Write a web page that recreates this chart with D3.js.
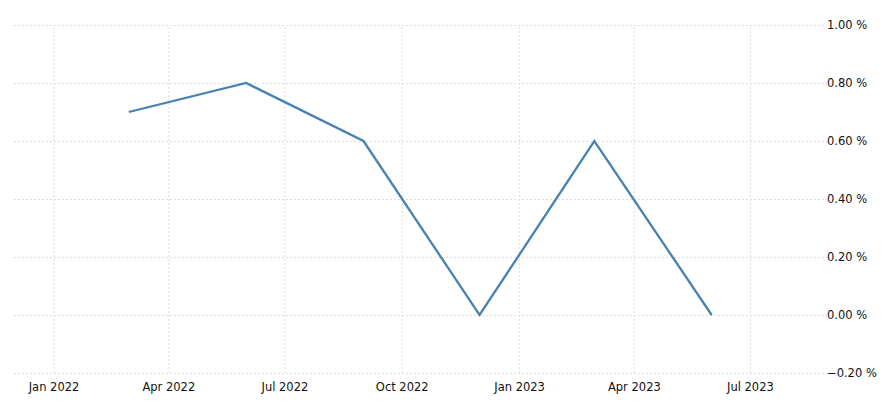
<!DOCTYPE html>
<html>
<head>
<meta charset="utf-8">
<script src="https://cdn.jsdelivr.net/npm/d3@7"></script>
<style>
  body { margin: 0; background: #fff; }
  text { font-family: "DejaVu Sans", sans-serif; }
</style>
</head>
<body>
<div id="chart"></div>
<script>
// Data (quarterly, plotted on first day of the quarter's last month)
var dates = ["2022-03-01", "2022-06-01", "2022-09-01", "2022-12-01", "2023-03-01", "2023-06-01"];
var values = [0.7, 0.8, 0.6, 0.0, 0.6, 0.0];
var xTicks = ["2022-01-01", "2022-04-01", "2022-07-01", "2022-10-01", "2023-01-01", "2023-04-01", "2023-07-01"];
var yTicks = [-0.2, 0, 0.2, 0.4, 0.6, 0.8, 1.0];

var parse = d3.timeParse("%Y-%m-%d");
var data = dates.map(function(d, i) { return {date: parse(d), value: values[i]}; });

const width = 887, height = 402;
var svg = d3.select("#chart")
  .append("svg")
  .attr("width", width)
  .attr("height", height);

// plot area
const plot = {left: 14, right: 829, top: 25, bottom: 373};

var x = d3.scaleTime()
  .domain([parse("2021-12-01"), parse("2023-09-01")])
  .range([plot.left, plot.right]);
var y = d3.scaleLinear()
  .domain([-0.2, 1.0])
  .range([plot.bottom, plot.top]);

// horizontal grid + y labels
var yAxis = svg.append("g")
  .attr("transform", "translate(" + plot.left + ",0)")
  .call(d3.axisRight(y)
    .tickValues(yTicks)
    .tickSize(plot.right - plot.left - 2)
    .tickPadding(0)
    .tickFormat(function(d) { return d3.format(".2f")(d) + " %"; }));
yAxis.select(".domain").remove();
yAxis.selectAll("line")
  .attr("stroke", "#dedede")
  .attr("stroke-dasharray", "2,2");
yAxis.selectAll("text")
  .attr("x", plot.right - plot.left - 2)
  .attr("fill", "#111")
  .style("font-size", "11.5px");

// vertical grid + x labels
var xAxis = svg.append("g")
  .attr("transform", "translate(0," + plot.bottom + ")")
  .call(d3.axisBottom(x)
    .tickValues(xTicks.map(parse))
    .tickSize(-(plot.bottom - plot.top))
    .tickPadding(10)
    .tickFormat(d3.timeFormat("%b %Y")));
xAxis.select(".domain").remove();
xAxis.selectAll("line")
  .attr("stroke", "#dedede")
  .attr("stroke-dasharray", "2,2");
xAxis.selectAll("text")
  .attr("fill", "#111")
  .style("font-size", "11.5px");

// the series line
var line = d3.line()
  .x(function(d) { return x(d.date); })
  .y(function(d) { return y(d.value); });

svg.append("path")
  .datum(data)
  .attr("fill", "none")
  .attr("stroke", "#4682b4")
  .attr("stroke-width", 2.3)
  .attr("stroke-linejoin", "miter")
  .attr("d", line);
</script>
</body>
</html>
